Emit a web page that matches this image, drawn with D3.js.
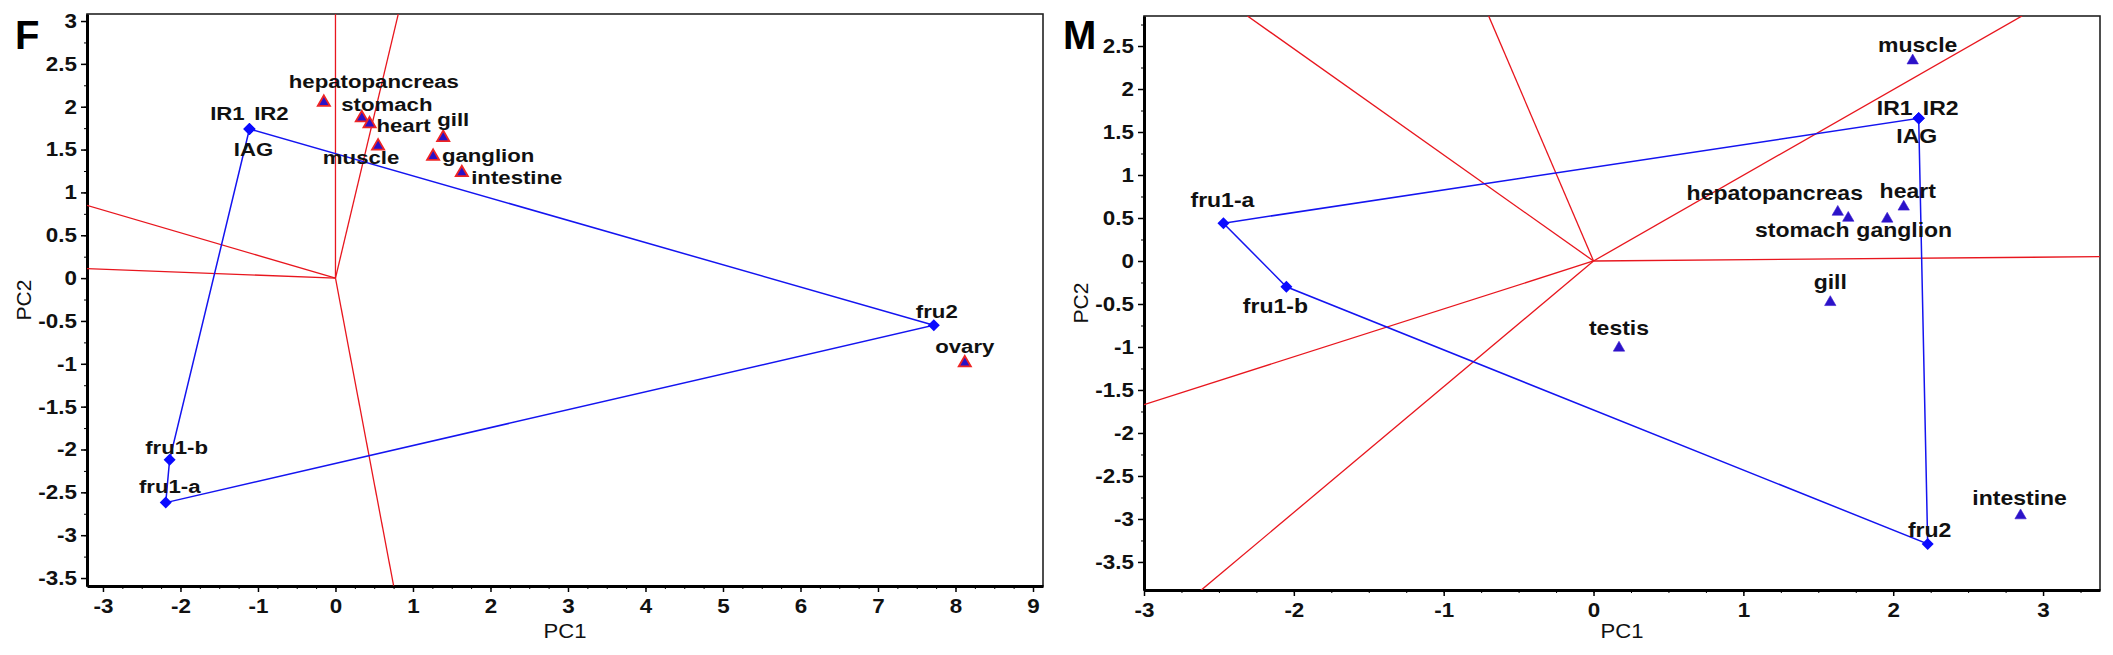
<!DOCTYPE html>
<html>
<head>
<meta charset="utf-8">
<script src="https://cdn.jsdelivr.net/npm/d3@7"></script>
<style>
  body { margin: 0; background: #fff; }
  svg { display: block; font-family: "Liberation Sans", Arial, sans-serif; }
</style>
</head>
<body>
<div id="chart"></div>
<script>
// ---- panel F : genes (diamonds), tissues (triangles), sector rays ----
const fGenes = ["IR1", "IR2", "IAG", "fru2", "fru1-a", "fru1-b"];
const fGeneX = [-1.11, -1.11, -1.11, 7.72, -2.19, -2.14];
const fGeneY = [1.74, 1.74, 1.74, -0.55, -2.62, -2.12];
const fTissues = ["hepatopancreas", "stomach", "heart", "muscle", "gill", "ganglion", "intestine", "ovary"];
const fTissueX = [-0.15, 0.34, 0.44, 0.55, 1.39, 1.26, 1.63, 8.12];
const fTissueY = [2.05, 1.87, 1.80, 1.54, 1.64, 1.42, 1.23, -0.99];
const fRayX = [0, 0.81, -3.21, -3.21, 0.75];
const fRayY = [3.08, 3.08, 0.85, 0.11, -3.59];
const fXTicks = [-3, -2, -1, 0, 1, 2, 3, 4, 5, 6, 7, 8, 9];
const fYTicks = [3, 2.5, 2, 1.5, 1, 0.5, 0, -0.5, -1, -1.5, -2, -2.5, -3, -3.5];

// ---- panel M ----
const mGenes = ["IR1", "IR2", "IAG", "fru2", "fru1-a", "fru1-b"];
const mGeneX = [2.17, 2.17, 2.17, 2.23, -2.47, -2.05];
const mGeneY = [1.66, 1.66, 1.66, -3.29, 0.44, -0.30];
const mTissues = ["muscle", "hepatopancreas", "stomach", "heart", "ganglion", "gill", "testis", "intestine"];
const mTissueX = [2.13, 1.63, 1.70, 2.07, 1.96, 1.58, 0.17, 2.85];
const mTissueY = [2.33, 0.57, 0.50, 0.63, 0.49, -0.48, -1.01, -2.96];
const mRayX = [-2.31, -0.70, 2.86, 3.38, -3.0, -2.62];
const mRayY = [2.85, 2.85, 2.85, 0.05, -1.67, -3.83];
const mXTicks = [-3, -2, -1, 0, 1, 2, 3];
const mYTicks = [2.5, 2, 1.5, 1, 0.5, 0, -0.5, -1, -1.5, -2, -2.5, -3, -3.5];

// layout: label offsets in pixels (centre, baseline) from each marker
const panels = [
  {
    letter: "F", letterX: 15,
    left: 87, right: 1043, top: 14, bottom: 586,
    xDom: [-3.206, 9.129], yDom: [-3.593, 3.082],
    genes: fGenes, gx: fGeneX, gy: fGeneY,
    geneOff: [[-22, -9], [22, -9], [4, 27], [3, -7], [4, -10], [7, -6]],
    tissues: fTissues, tx: fTissueX, ty: fTissueY,
    tissueOff: [[50, -14], [25, -7], [34, 8], [-17, 18], [10, -12], [55, 6], [55, 11], [0, -10]],
    rayX: fRayX, rayY: fRayY, xTicks: fXTicks, yTicks: fYTicks,
    labelSize: 18.5, labelStretch: 1.2, redEdge: true
  },
  {
    letter: "M", letterX: 1063,
    left: 1144, right: 2100, top: 16, bottom: 590,
    xDom: [-3, 3.38], yDom: [-3.826, 2.849],
    genes: mGenes, gx: mGeneX, gy: mGeneY,
    geneOff: [[-24, -3], [22, -3], [-2, 25], [2, -7], [-1, -16], [-11, 26]],
    tissues: mTissues, tx: mTissueX, ty: mTissueY,
    tissueOff: [[5, -9], [-63, -12], [-46, 19], [4, -9], [17, 18], [0, -13], [0, -13], [-1, -11]],
    rayX: mRayX, rayY: mRayY, xTicks: mXTicks, yTicks: mYTicks,
    labelSize: 19.5, labelStretch: 1.18, redEdge: false
  }
];

const W = 2113, H = 655;
const svg = d3.select("#chart").append("svg")
  .attr("width", W).attr("height", H);
svg.append("rect").attr("width", W).attr("height", H).attr("fill", "#fff");

const stretchText = (g, x, y, txt, size, sx, weight) => g.append("text")
  .attr("transform", `translate(${x},${y}) scale(${sx},1)`)
  .attr("text-anchor", "middle")
  .style("font-size", size + "px")
  .style("font-weight", weight)
  .attr("fill", "#111")
  .text(txt);

panels.forEach((p, pi) => {
  const x = d3.scaleLinear().domain(p.xDom).range([p.left, p.right]);
  const y = d3.scaleLinear().domain(p.yDom).range([p.bottom, p.top]);
  const g = svg.append("g");

  const clipId = "clip" + pi;
  svg.append("clipPath").attr("id", clipId)
    .append("rect")
    .attr("x", p.left).attr("y", p.top)
    .attr("width", p.right - p.left).attr("height", p.bottom - p.top);

  // frame (top / right thin)
  g.append("rect")
    .attr("x", p.left).attr("y", p.top)
    .attr("width", p.right - p.left).attr("height", p.bottom - p.top)
    .attr("fill", "none").attr("stroke", "#222").attr("stroke-width", 1.6);

  // minor ticks
  const minorX = d3.range(p.xTicks[0], p.xDom[1], 0.25);
  const minorY = d3.range(p.yTicks[p.yTicks.length - 1], p.yDom[1], 0.25);
  g.append("g").attr("transform", `translate(0,${p.bottom})`)
    .call(d3.axisBottom(x).tickValues(minorX).tickSize(3).tickFormat(""))
    .call(a => a.select(".domain").remove());
  g.append("g").attr("transform", `translate(${p.left},0)`)
    .call(d3.axisLeft(y).tickValues(minorY).tickSize(3).tickFormat(""))
    .call(a => a.select(".domain").remove());

  // major axes
  const xAxis = g.append("g").attr("transform", `translate(0,${p.bottom})`)
    .call(d3.axisBottom(x).tickValues(p.xTicks).tickSize(6).tickSizeOuter(0)
      .tickPadding(7).tickFormat(d => String(d)));
  const yAxis = g.append("g").attr("transform", `translate(${p.left},0)`)
    .call(d3.axisLeft(y).tickValues(p.yTicks).tickSize(6).tickSizeOuter(0)
      .tickPadding(3).tickFormat(d => String(d)));
  [xAxis, yAxis].forEach(a => {
    a.select(".domain").attr("stroke", "#000").attr("stroke-width", 3);
    a.selectAll(".tick line").attr("stroke", "#000").attr("stroke-width", 1.5);
    a.selectAll(".tick text")
      .attr("fill", "#111")
      .style("font-size", "20px").style("font-weight", "bold")
      .attr("transform", "scale(1.12,1)");
  });
  g.selectAll(".tick line").attr("stroke", "#000");

  // axis titles
  stretchText(g, (p.left + p.right) / 2, 638, "PC1", 21, 1.05, "normal");
  g.append("text")
    .attr("transform", `translate(${p.left - 56},${(p.top + p.bottom) / 2}) rotate(-90)`)
    .attr("text-anchor", "middle")
    .style("font-size", "21px")
    .attr("fill", "#111")
    .text("PC2");

  // panel letter
  g.append("text")
    .attr("x", p.letterX).attr("y", 49)
    .style("font-size", "40px").style("font-weight", "bold")
    .attr("fill", "#000")
    .text(p.letter);

  // red sector rays from origin
  const rays = g.append("g").attr("clip-path", `url(#${clipId})`);
  p.rayX.forEach((rx, i) => {
    rays.append("line")
      .attr("x1", x(0)).attr("y1", y(0))
      .attr("x2", x(rx)).attr("y2", y(p.rayY[i]))
      .attr("stroke", "#e8161e").attr("stroke-width", 1.3);
  });

  // blue polygon through the outermost genes
  const genePts = p.gx.map((gx, i) => [x(gx), y(p.gy[i])]);
  const hull = d3.polygonHull(genePts);
  g.append("path")
    .attr("d", "M" + hull.join("L") + "Z")
    .attr("fill", "none").attr("stroke", "#1414f0").attr("stroke-width", 1.5);

  // tissue triangles
  const tri = d3.symbol(d3.symbolTriangle).size(p.redEdge ? 64 : 56);
  p.tx.forEach((tx, i) => {
    g.append("path")
      .attr("d", tri())
      .attr("transform", `translate(${x(tx)},${y(p.ty[i])})`)
      .attr("fill", "#2a12c8")
      .attr("stroke", p.redEdge ? "#ee2424" : "#3a1ad0")
      .attr("stroke-width", p.redEdge ? 1.8 : 0.6);
  });

  // gene diamonds
  const dia = d3.symbol(d3.symbolSquare).size(72);
  genePts.forEach(pt => {
    g.append("path")
      .attr("d", dia())
      .attr("transform", `translate(${pt[0]},${pt[1]}) rotate(45)`)
      .attr("fill", "#0a0aff");
  });

  // labels
  p.tissues.forEach((t, i) => {
    const o = p.tissueOff[i];
    stretchText(g, x(p.tx[i]) + o[0], y(p.ty[i]) + o[1], t, p.labelSize, p.labelStretch, "bold");
  });
  p.genes.forEach((n, i) => {
    const o = p.geneOff[i];
    stretchText(g, genePts[i][0] + o[0], genePts[i][1] + o[1], n, p.labelSize, p.labelStretch, "bold");
  });
});
</script>
</body>
</html>
